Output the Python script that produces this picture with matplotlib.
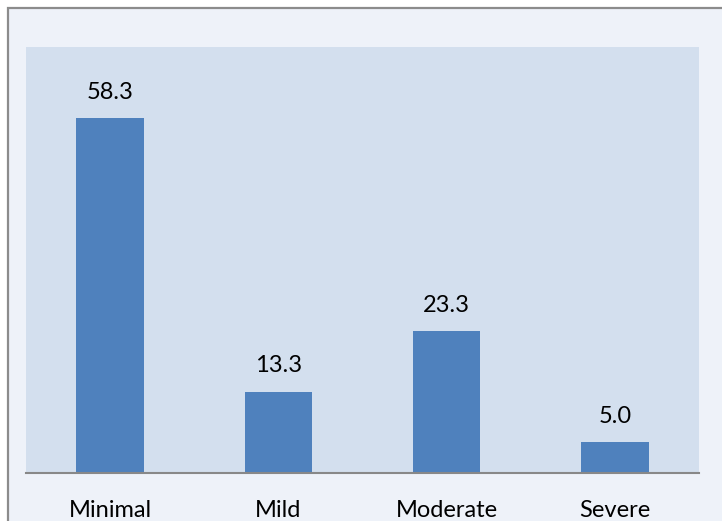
import matplotlib
matplotlib.use("Agg")
import matplotlib.pyplot as plt
from matplotlib.patches import Rectangle

categories = ["Minimal", "Mild", "Moderate", "Severe"]
values = [58.3, 13.3, 23.3, 5.0]
value_labels = ["58.3", "13.3", "23.3", "5.0"]

W, H = 722, 521
fig = plt.figure(figsize=(W / 100, H / 100), dpi=100)
fig.patch.set_facecolor("white")

# outer chart-area frame (cropped on right/bottom)
fig.patches.append(Rectangle((7.5 / W, -0.1), 1.2, (H - 7.5) / H + 0.1,
                             transform=fig.transFigure, facecolor="#eef2f9",
                             edgecolor="#8c8c8c", linewidth=1.6, zorder=-5))

ax = fig.add_axes([26 / W, (H - 472.7) / H, (699 - 26) / W, (472.7 - 47) / H])
ax.set_zorder(2)
ax.set_facecolor("#d3dfee")
x = list(range(len(categories)))
ax.bar(x, values, width=0.4, color="#4f81bd", zorder=2)
ax.set_xlim(-0.5, 3.5)
ax.set_ylim(0, 70)
for s in ["top", "right", "left"]:
    ax.spines[s].set_visible(False)
ax.spines["bottom"].set_color("#888888")
ax.spines["bottom"].set_linewidth(1.5)
ax.set_yticks([])
ax.set_xticks(x)
ax.set_xticklabels(categories, fontsize=17, family="Lato", color="black")
ax.tick_params(axis="x", length=0, pad=19.5)

for xi, v, lab in zip(x, values, value_labels):
    ax.annotate(lab, (xi, v), xytext=(0, 18.7), textcoords="offset points",
                ha="center", va="center", fontsize=17, family="Lato", color="black")

fig.savefig("out.png", dpi=100)
